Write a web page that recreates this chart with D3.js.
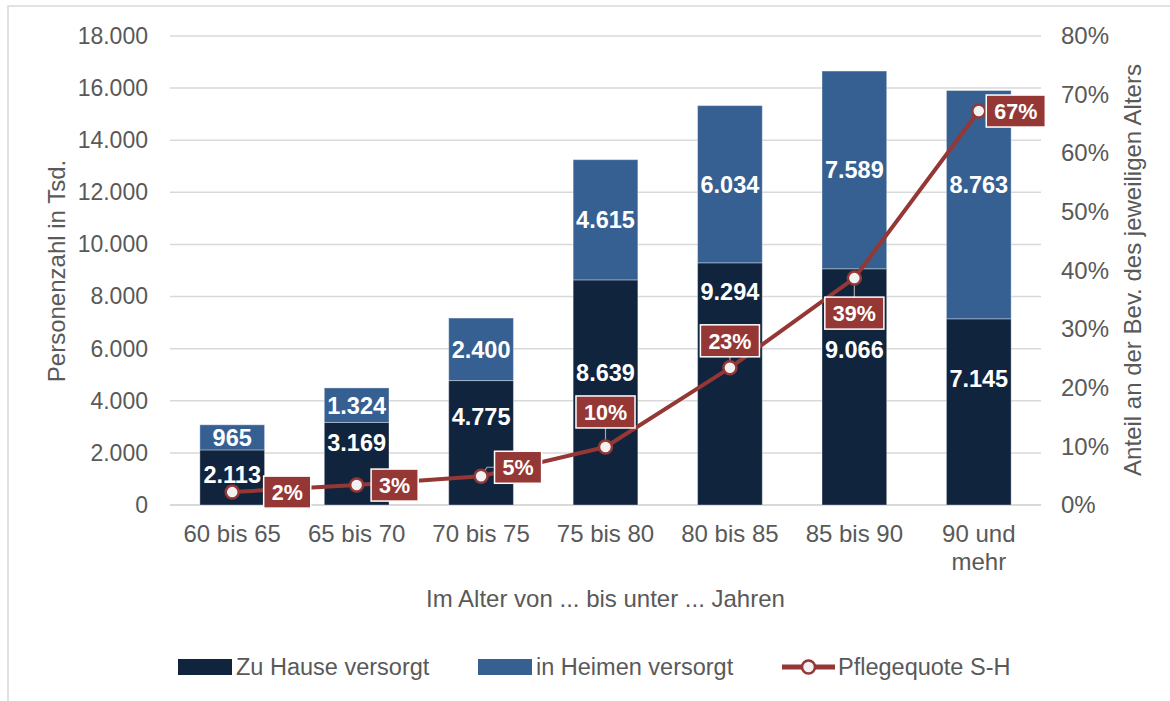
<!DOCTYPE html>
<html>
<head>
<meta charset="utf-8">
<script src="https://cdn.jsdelivr.net/npm/d3@7"></script>
<style>
  html, body { margin: 0; padding: 0; background: #fff; }
  svg { display: block; }
  text { font-family: "Liberation Sans", Arial, sans-serif; }
</style>
</head>
<body>
<svg id="chart" width="1170" height="701"></svg>
<script>
// ---------- data ----------
const categories = ["60 bis 65", "65 bis 70", "70 bis 75", "75 bis 80", "80 bis 85", "85 bis 90", "90 und mehr"];
const zuHause    = [2113, 3169, 4775, 8639, 9294, 9066, 7145];
const inHeimen   = [965, 1324, 2400, 4615, 6034, 7589, 8763];
const quote      = [0.022, 0.034, 0.049, 0.099, 0.234, 0.387, 0.672];
const leftTicks  = [0, 2000, 4000, 6000, 8000, 10000, 12000, 14000, 16000, 18000];
const rightTicks = [0, 0.1, 0.2, 0.3, 0.4, 0.5, 0.6, 0.7, 0.8];
const seriesNames = ["Zu Hause versorgt", "in Heimen versorgt", "Pflegequote S-H"];

// label placement (layout): fraction of segment height for "Zu Hause"/"Heimen" labels
const zuHauseLabelFrac = [0.56, 0.76, 0.71, 0.59, 0.88, 0.66, 0.68];
const heimenLabelFrac  = [0.5, 0.5, 0.5, 0.5, 0.5, 0.5, 0.59];
// offsets of percentage boxes relative to their point
const quoteLabelOffset = [[55, 0], [38, 0], [37, -9], [0, -35], [0, -27], [0, 35], [37, 0]];

// ---------- style ----------
const C_DARK = "#11243e", C_BLUE = "#366092", C_RED = "#953735", C_GRID = "#d9d9d9", C_TEXT = "#595959";
const FS_TICK = 23, FS_TITLE = 24;

const svg = d3.select("#chart");
const fmtDE = d3.formatLocale({decimal: ",", thousands: ".", grouping: [3], currency: ["", "€"]});
const fmtNum = fmtDE.format(",d");
const fmtPct = d => Math.round(d * 100) + "%";

// border
svg.append("rect").attr("x", 8).attr("y", 6).attr("width", 1300).attr("height", 800)
  .attr("fill", "none").attr("stroke", C_GRID).attr("stroke-width", 1.5);

const plot = {left: 170, right: 1041, top: 36, bottom: 505};

const x = d3.scaleBand().domain(categories).range([plot.left, plot.right]).paddingInner(0.48).paddingOuter(0.24);
const y = d3.scaleLinear().domain([0, 18000]).range([plot.bottom, plot.top]);
const yR = d3.scaleLinear().domain([0, 0.8]).range([plot.bottom, plot.top]);

// gridlines
svg.append("g").selectAll("line").data(leftTicks).join("line")
  .attr("x1", plot.left).attr("x2", plot.right)
  .attr("y1", d => y(d)).attr("y2", d => y(d))
  .attr("stroke", C_GRID).attr("stroke-width", d => d === 0 ? 2 : 1.5);

// left axis
const gL = svg.append("g").attr("transform", `translate(${plot.left},0)`)
  .call(d3.axisLeft(y).tickValues(leftTicks).tickFormat(fmtNum).tickSize(0).tickPadding(22));
gL.select(".domain").remove();
gL.selectAll("text").attr("font-size", FS_TICK).attr("fill", C_TEXT).attr("font-family", "Liberation Sans, Arial, sans-serif");

// right axis
const gR = svg.append("g").attr("transform", `translate(${plot.right},0)`)
  .call(d3.axisRight(yR).tickValues(rightTicks).tickFormat(d3.format(".0%")).tickSize(0).tickPadding(20));
gR.select(".domain").remove();
gR.selectAll("text").attr("font-size", 24).attr("fill", C_TEXT).attr("font-family", "Liberation Sans, Arial, sans-serif");

// bottom axis
const gB = svg.append("g").attr("transform", `translate(0,${plot.bottom})`)
  .call(d3.axisBottom(x).tickSize(0).tickPadding(20));
gB.select(".domain").remove();
gB.selectAll("text").attr("font-size", FS_TITLE).attr("fill", C_TEXT).attr("font-family", "Liberation Sans, Arial, sans-serif")
  .each(function(d) {
    const t = d3.select(this);
    if (d === "90 und mehr") {
      t.text(null);
      t.append("tspan").attr("x", 0).attr("dy", "0.71em").text("90 und");
      t.append("tspan").attr("x", 0).attr("dy", "1.17em").text("mehr");
      t.attr("dy", null);
    }
  });

// axis titles
svg.append("text").attr("transform", `translate(65,271) rotate(-90)`).attr("text-anchor", "middle")
  .attr("font-size", FS_TITLE).attr("fill", C_TEXT).text("Personenzahl in Tsd.");
svg.append("text").attr("transform", `translate(1141,270) rotate(-90)`).attr("text-anchor", "middle")
  .attr("font-size", FS_TITLE).attr("fill", C_TEXT).text("Anteil an der Bev. des jeweiligen Alters");
svg.append("text").attr("x", (plot.left + plot.right) / 2).attr("y", 607).attr("text-anchor", "middle")
  .attr("font-size", FS_TITLE).attr("fill", C_TEXT).text("Im Alter von ... bis unter ... Jahren");

// bars
const rows = categories.map((c, i) => ({c, i, a: zuHause[i], b: inHeimen[i]}));
const gBars = svg.append("g");
gBars.selectAll("rect.a").data(rows).join("rect").attr("class", "a")
  .attr("x", d => x(d.c)).attr("width", x.bandwidth())
  .attr("y", d => y(d.a)).attr("height", d => y(0) - y(d.a))
  .attr("fill", C_DARK).attr("stroke", "#ffffff").attr("stroke-opacity", 0.35).attr("stroke-width", 1);
gBars.selectAll("rect.b").data(rows).join("rect").attr("class", "b")
  .attr("x", d => x(d.c)).attr("width", x.bandwidth())
  .attr("y", d => y(d.a + d.b)).attr("height", d => y(d.a) - y(d.a + d.b))
  .attr("fill", C_BLUE).attr("stroke", "#ffffff").attr("stroke-opacity", 0.35).attr("stroke-width", 1);

// bar labels
const gBL = svg.append("g").attr("font-size", 23.5).attr("font-weight", "bold").attr("fill", "#fff").attr("text-anchor", "middle");
gBL.selectAll("text.a").data(rows).join("text").attr("class", "a")
  .attr("x", d => x(d.c) + x.bandwidth() / 2)
  .attr("y", d => y(d.a * zuHauseLabelFrac[d.i])).attr("dy", "0.36em")
  .text(d => fmtNum(d.a));
gBL.selectAll("text.b").data(rows).join("text").attr("class", "b")
  .attr("x", d => x(d.c) + x.bandwidth() / 2)
  .attr("y", d => y(d.a + d.b * heimenLabelFrac[d.i])).attr("dy", "0.36em")
  .text(d => fmtNum(d.b));

// line
const pts = categories.map((c, i) => ({c, i, v: quote[i], px: x(c) + x.bandwidth() / 2, py: yR(quote[i])}));
svg.append("path").datum(pts)
  .attr("d", d3.line().x(d => d.px).y(d => d.py))
  .attr("fill", "none").attr("stroke", C_RED).attr("stroke-width", 4).attr("stroke-linejoin", "round");

// leader lines
const gLead = svg.append("g");
pts.forEach(d => {
  const [dx, dy] = quoteLabelOffset[d.i];
  if (dy !== 0) {
    const bx = d.px + dx, by = d.py + dy;
    if (dx === 0) {
      gLead.append("line").attr("x1", d.px).attr("y1", d.py).attr("x2", bx).attr("y2", by + (dy < 0 ? 16 : -16))
        .attr("stroke", "#a6a6a6").attr("stroke-width", 1.2);
    } else {
      gLead.append("polyline").attr("points", `${d.px},${d.py} ${d.px + 6},${by} ${bx - 20},${by}`)
        .attr("fill", "none").attr("stroke", "#a6a6a6").attr("stroke-width", 1.2);
    }
  }
});

// markers
svg.append("g").selectAll("circle").data(pts).join("circle")
  .attr("cx", d => d.px).attr("cy", d => d.py).attr("r", 6.5)
  .attr("fill", "#f2f2f2").attr("stroke", C_RED).attr("stroke-width", 2.5);

// percentage boxes
const gQL = svg.append("g");
pts.forEach(d => {
  const [dx, dy] = quoteLabelOffset[d.i];
  const bx = d.px + dx, by = d.py + dy;
  const g = gQL.append("g").attr("transform", `translate(${bx},${by})`);
  const t = g.append("text").attr("text-anchor", "middle").attr("dy", "0.36em")
    .attr("font-size", 21.5).attr("font-weight", "bold").attr("fill", "#fff").text(fmtPct(d.v));
  const w = t.node().getComputedTextLength() + 16, h = 32;
  g.insert("rect", "text").attr("x", -w / 2).attr("y", -h / 2).attr("width", w).attr("height", h)
    .attr("fill", C_RED).attr("stroke", "#ffffff").attr("stroke-width", 1.5);
});

// legend
const gLeg = svg.append("g").attr("font-size", 23.5).attr("fill", C_TEXT);
const legY = 667;
gLeg.append("rect").attr("x", 178).attr("y", legY - 8).attr("width", 54).attr("height", 16).attr("fill", C_DARK);
gLeg.append("text").attr("x", 236).attr("y", legY).attr("dy", "0.36em").text(seriesNames[0]);
gLeg.append("rect").attr("x", 478).attr("y", legY - 8).attr("width", 54).attr("height", 16).attr("fill", C_BLUE);
gLeg.append("text").attr("x", 536).attr("y", legY).attr("dy", "0.36em").text(seriesNames[1]);
gLeg.append("line").attr("x1", 782).attr("x2", 835).attr("y1", legY).attr("y2", legY).attr("stroke", C_RED).attr("stroke-width", 5);
gLeg.append("circle").attr("cx", 808.5).attr("cy", legY).attr("r", 6.5).attr("fill", "#f2f2f2").attr("stroke", C_RED).attr("stroke-width", 2.5);
gLeg.append("text").attr("x", 838).attr("y", legY).attr("dy", "0.36em").text(seriesNames[2]);
</script>
</body>
</html>
